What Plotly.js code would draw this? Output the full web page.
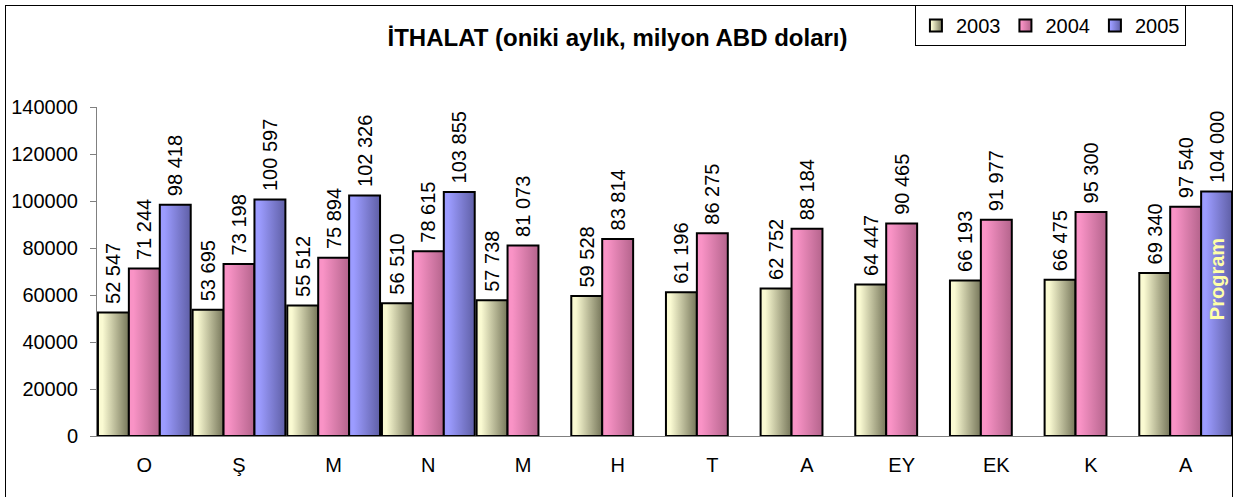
<!DOCTYPE html>
<html>
<head>
<meta charset="utf-8">
<script src="https://cdn.plot.ly/plotly-3.0.1.min.js"></script>
<style>
  html, body { margin: 0; padding: 0; background: #fff; overflow: hidden; }
  #wrap { position: relative; width: 1235px; height: 497px; overflow: hidden; }
  #chart { position: absolute; left: 0; top: 0; width: 1235px; height: 497px; }
  #frame { position: absolute; left: 5px; top: 5px; width: 1226px; height: 510px;
           border: 1.5px solid #000; pointer-events: none; }
</style>
</head>
<body>
<div id="wrap">
  <div id="chart"></div>
  <div id="frame"></div>
</div>
<script>
// ---- data ----
const months = ['O', 'Ş', 'M', 'N', 'M', 'H', 'T', 'A', 'EY', 'EK', 'K', 'A'];
const seriesNames = ['2003', '2004', '2005'];
const values2003 = [52547, 53695, 55512, 56510, 57738, 59528, 61196, 62752, 64447, 66193, 66475, 69340];
const values2004 = [71244, 73198, 75894, 78615, 81073, 83814, 86275, 88184, 90465, 91977, 95300, 97540];
const values2005 = [98418, 100597, 102326, 103855, null, null, null, null, null, null, null, 104000];
const programLabel = 'Program';
const programIndex = 11;

// ---- styling ----
const FONT = 'Liberation Sans, Arial, sans-serif';
const gradients = [
  ['#FAFAD2', '#76765A'],
  ['#F993C6', '#B4648C'],
  ['#9C9CFF', '#5F5FA6']
];
const baseColors = ['#C8C89A', '#E07AAA', '#8080D8'];
const BARGAP = 0.02;

const idx = months.map((_, i) => i);
const boundaries = months.map((_, i) => i - 0.5).concat([months.length - 0.5]);
const allSeries = [values2003, values2004, values2005];

const traces = allSeries.map((vals, k) => ({
  type: 'bar',
  name: seriesNames[k],
  x: idx,
  y: vals,
  marker: { color: baseColors[k], line: { color: '#000', width: 2 } },
  texttemplate: '\u00A0%{y:,}',
  textposition: 'outside',
  textangle: -90,
  constraintext: 'none',
  cliponaxis: false,
  textfont: { family: FONT, size: 20, color: '#000' },
  hoverinfo: 'skip'
}));

const barWidth = (1 - BARGAP) / 3;
const layout = {
  width: 1235,
  height: 497,
  margin: { l: 97, r: 2, t: 107, b: 61 },
  separators: ', ',
  paper_bgcolor: '#fff',
  plot_bgcolor: '#fff',
  font: { family: FONT, size: 20, color: '#000' },
  barmode: 'group',
  bargap: BARGAP,
  bargroupgap: 0,
  showlegend: true,
  title: {
    text: '<b>İTHALAT (oniki aylık, milyon ABD doları)</b>',
    font: { family: FONT, size: 24, color: '#000' },
    xref: 'container', x: 0.5, xanchor: 'center',
    yref: 'container', y: 1 - 38 / 497, yanchor: 'middle'
  },
  legend: {
    orientation: 'h',
    xref: 'paper', yref: 'paper',
    x: 0.72, y: 1.31, xanchor: 'left', yanchor: 'top',
    bordercolor: '#000', borderwidth: 1, bgcolor: '#fff',
    font: { family: FONT, size: 20, color: '#000' },
    traceorder: 'normal'
  },
  xaxis: {
    range: [-0.5, months.length - 0.5],
    tickmode: 'array', tickvals: idx, ticktext: months,
    ticks: '', showgrid: false, zeroline: false,
    showline: true, linecolor: '#808080', linewidth: 1,
    tickfont: { family: FONT, size: 20, color: '#000' },
    ticklabelstandoff: 11,
    fixedrange: true
  },
  xaxis2: {
    overlaying: 'x', anchor: 'y', side: 'bottom',
    range: [-0.5, months.length - 0.5],
    tickmode: 'array', tickvals: boundaries,
    ticks: 'outside', ticklen: 6, tickcolor: '#808080', tickwidth: 1,
    showticklabels: false, showgrid: false, zeroline: false, showline: false
  },
  yaxis: {
    range: [0, 140000], dtick: 20000, tick0: 0, tickformat: 'd',
    ticks: 'outside', ticklen: 6, tickcolor: '#808080', tickwidth: 1,
    showline: true, linecolor: '#808080', linewidth: 1,
    showgrid: false, zeroline: false,
    tickfont: { family: FONT, size: 20, color: '#000' },
    ticklabelstandoff: 8,
    fixedrange: true
  },
  annotations: [{
    xref: 'x', yref: 'y',
    x: programIndex + barWidth,
    y: values2005[programIndex] * 0.64,
    text: '<b>' + programLabel + '</b>',
    textangle: -90,
    showarrow: false,
    font: { family: FONT, size: 20, color: '#FFFFA8' },
    xanchor: 'center', yanchor: 'middle'
  }]
};

Plotly.newPlot('chart', traces, layout, { staticPlot: true, displayModeBar: false }).then(gd => {
  const NS = 'http://www.w3.org/2000/svg';
  const svg = gd.querySelector('svg.main-svg');
  const defs = document.createElementNS(NS, 'defs');
  gradients.forEach((g, k) => {
    const lg = document.createElementNS(NS, 'linearGradient');
    lg.setAttribute('id', 'barGrad' + k);
    lg.setAttribute('x1', '0'); lg.setAttribute('y1', '0');
    lg.setAttribute('x2', '1'); lg.setAttribute('y2', '0');
    [[0, g[0]], [0.15, g[0]], [1, g[1]]].forEach(([o, c]) => {
      const st = document.createElementNS(NS, 'stop');
      st.setAttribute('offset', o);
      st.setAttribute('stop-color', c);
      lg.appendChild(st);
    });
    defs.appendChild(lg);
  });
  svg.insertBefore(defs, svg.firstChild);
  gd.querySelectorAll('.barlayer .trace').forEach((tr, k) => {
    tr.querySelectorAll('.point path').forEach(p => { p.style.fill = 'url(#barGrad' + k + ')'; });
  });
  gd.querySelectorAll('.legend .traces').forEach((tr, k) => {
    tr.querySelectorAll('.legendpoints path').forEach(p => { p.style.fill = 'url(#barGrad' + k + ')'; });
  });
});
</script>
</body>
</html>
